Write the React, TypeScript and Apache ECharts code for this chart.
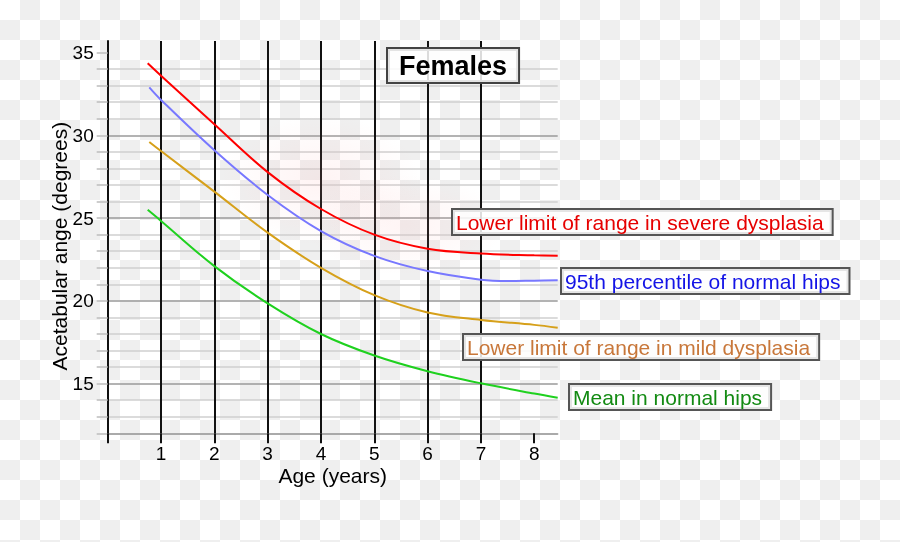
import React, { useEffect, useRef } from 'react';
import * as echarts from 'echarts';

// Axis ticks / labels
const xTickValues = [0, 1, 2, 3, 4, 5, 6, 7, 8];
const xLabelValues = [1, 2, 3, 4, 5, 6, 7, 8];
const yTickValues = [12, 13, 14, 15, 16, 17, 18, 19, 20, 21, 22, 23, 24, 25, 26, 27, 28, 29, 30, 31, 32, 33, 34, 35];
const yLabelValues = [15, 20, 25, 30, 35];

// Series (age in years, acetabular angle in degrees)
const severeLowerLimit = [
  [0.75, 34.35], [1, 33.6], [2, 30.67], [3, 27.78], [4, 25.55], [5, 24.0], [6, 23.15], [7, 22.86], [8, 22.75], [8.44, 22.72],
];
const normal95th = [
  [0.78, 32.9], [1, 32.14], [2, 29.1], [3, 26.4], [4, 24.22], [5, 22.72], [6, 21.8], [7, 21.28], [7.5, 21.2], [8, 21.22], [8.44, 21.24],
];
const mildLowerLimit = [
  [0.78, 29.6], [1, 29.05], [2, 26.6], [3, 24.12], [4, 22.0], [5, 20.35], [6, 19.3], [7, 18.85], [8, 18.55], [8.44, 18.38],
];
const normalMean = [
  [0.75, 25.5], [1, 24.83], [2, 22.1], [3, 19.85], [4, 18.0], [5, 16.7], [6, 15.75], [7, 15.02], [8, 14.4], [8.44, 14.15],
];

const seriesNames = [
  'Lower limit of range in severe dysplasia',
  '95th percentile of normal hips',
  'Lower limit of range in mild dysplasia',
  'Mean in normal hips',
];
const titleText = 'Females';
const xAxisName = 'Age (years)';
const yAxisName = 'Acetabular ange (degrees)';

const FONT = '"Liberation Sans", Arial, Helvetica, sans-serif';

function boxLabel(text: string, x: number, y: number, color: string) {
  return {
    type: 'text',
    x,
    y,
    z: 20,
    style: {
      text,
      fill: color,
      font: `21px ${FONT}`,
      align: 'left',
      verticalAlign: 'top',
      backgroundColor: 'rgba(255,255,255,0.85)',
      borderColor: '#555',
      borderWidth: 2,
      padding: [2, 8, 1, 3],
    },
  };
}

function glow(cx: number, cy: number, rx: number, ry: number, a: number) {
  return {
    type: 'ellipse',
    z: 1,
    silent: true,
    shape: { cx, cy, rx, ry },
    style: {
      fill: {
        type: 'radial', x: 0.5, y: 0.5, r: 0.5,
        colorStops: [
          { offset: 0, color: `rgba(255,175,175,${a})` },
          { offset: 1, color: 'rgba(255,175,175,0)' },
        ],
      },
    },
  };
}

export default function App() {
  const ref = useRef<HTMLDivElement>(null);

  useEffect(() => {
    if (!ref.current) return;
    const chart = echarts.init(ref.current, null, { renderer: 'svg' });

    const splitColors = yTickValues.map((v) => (v % 5 === 0 ? '#9a9a9a' : '#cfcfcf'));

    const lineSeries = (name: string, data: number[][], color: string) => ({
      name,
      type: 'line',
      data,
      smooth: 0.35,
      showSymbol: false,
      symbol: 'none',
      z: 5,
      lineStyle: { color, width: 2 },
      itemStyle: { color },
    });

    chart.setOption({
      animation: false,
      backgroundColor: 'transparent',
      textStyle: { fontFamily: FONT },
      grid: { left: 107.7, right: 342.3, top: 41, bottom: 108.7, containLabel: false },
      xAxis: {
        type: 'value',
        min: 0,
        max: 8.44,
        interval: 1,
        name: xAxisName,
        nameLocation: 'middle',
        nameGap: 32,
        nameMoveOverlap: false,
        nameTextStyle: { fontSize: 21, color: '#000', fontFamily: FONT },
        axisLine: { show: true, onZero: false, lineStyle: { color: '#9a9a9a', width: 1.5 } },
        axisTick: { show: true, length: 10, customValues: xTickValues, lineStyle: { color: '#111', width: 2 } },
        axisLabel: { show: true, customValues: xLabelValues, margin: 11, fontSize: 19, color: '#000', fontFamily: FONT },
        splitLine: { show: true, showMaxLine: false, lineStyle: { color: '#111', width: 2 } },
      },
      yAxis: {
        type: 'value',
        min: 12,
        max: 35.7,
        interval: 1,
        name: yAxisName,
        nameLocation: 'middle',
        nameGap: 38,
        nameMoveOverlap: false,
        nameTextStyle: { fontSize: 21, color: '#000', fontFamily: FONT, padding: [0, 18, 0, 0] },
        axisLine: { show: true, onZero: false, lineStyle: { color: '#111', width: 2 } },
        axisTick: { show: true, length: 11, customValues: yTickValues, lineStyle: { color: '#bdbdbd', width: 1.5 } },
        axisLabel: { show: true, customValues: yLabelValues, margin: 14, fontSize: 19, color: '#000', fontFamily: FONT },
        splitLine: { show: true, showMaxLine: false, lineStyle: { color: splitColors, width: 1.5 } },
      },
      graphic: [
        glow(320, 180, 100, 65, 0.14),
        glow(405, 225, 100, 50, 0.13),
        {
          type: 'text',
          x: 388,
          y: 49,
          z: 20,
          style: {
            text: titleText,
            fill: '#000',
            font: `bold 27px ${FONT}`,
            align: 'left',
            verticalAlign: 'top',
            backgroundColor: 'rgba(255,255,255,0.85)',
            borderColor: '#444',
            borderWidth: 2,
            padding: [3, 11, 3, 11],
          },
        },
        boxLabel(seriesNames[0], 453, 210, '#e60000'),
        boxLabel(seriesNames[1], 562, 269, '#1414e6'),
        boxLabel(seriesNames[2], 464, 335, '#c8773a'),
        boxLabel(seriesNames[3], 570, 385, '#128a12'),
      ],
      series: [
        lineSeries(seriesNames[0], severeLowerLimit, '#ff0000'),
        lineSeries(seriesNames[1], normal95th, '#7878ff'),
        lineSeries(seriesNames[2], mildLowerLimit, '#d6a01a'),
        lineSeries(seriesNames[3], normalMean, '#1fd11f'),
      ],
    });

    return () => chart.dispose();
  }, []);

  return (
    <div
      style={{
        position: 'fixed',
        left: 0,
        top: 0,
        width: 900,
        height: 542,
        background: 'repeating-conic-gradient(#efefef 0 25%, #ffffff 0 50%) 0 0 / 40px 40px',
      }}
    >
      <div ref={ref} style={{ width: 900, height: 542 }} />
    </div>
  );
}
